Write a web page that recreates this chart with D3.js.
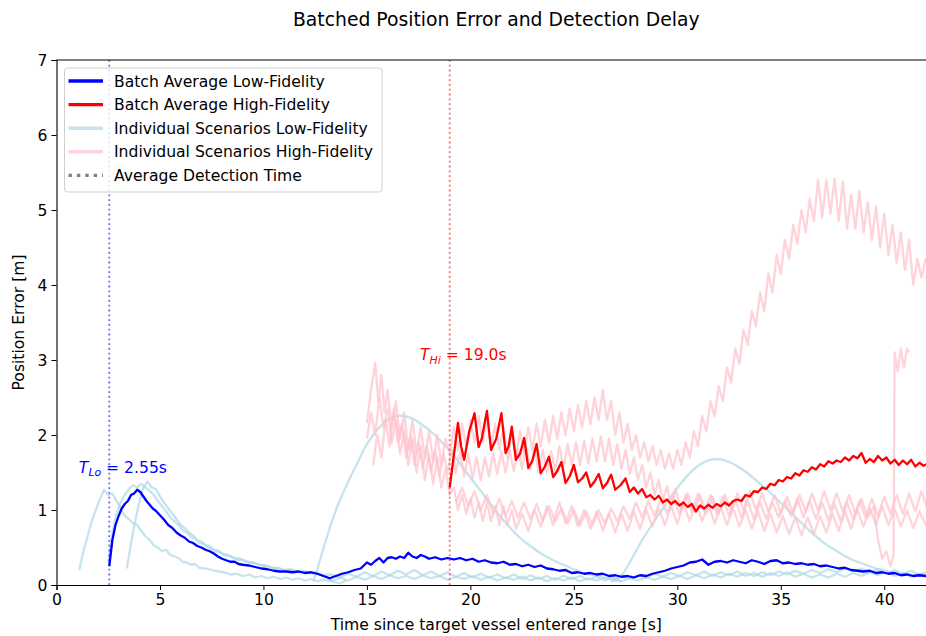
<!DOCTYPE html>
<html>
<head>
<meta charset="utf-8">
<script src="https://cdn.jsdelivr.net/npm/d3@7"></script>
<style>
  body { margin: 0; background: #fff; }
  text { font-family: "DejaVu Sans", sans-serif; }
</style>
</head>
<body>
<svg id="chart" width="926" height="636"></svg>
<script>
// values, [time s, error m]
const lowAvg = [[2.55,0.25],[2.7,0.6],[2.85,0.8],[3.0,0.92],[3.15,1.02],[3.3,1.08],[3.45,1.12],[3.6,1.2],[3.75,1.22],[3.9,1.27],[4.05,1.24],[4.2,1.18],[4.35,1.12],[4.5,1.07],[4.65,1.02],[4.8,0.99],[5.0,0.93],[5.2,0.87],[5.4,0.80],[5.6,0.76],[5.8,0.70],[6.0,0.66],[6.2,0.63],[6.4,0.58],[6.6,0.56],[6.8,0.52],[7.0,0.50],[7.2,0.47],[7.4,0.45],[7.6,0.42],[7.8,0.38],[8.0,0.35],[8.2,0.33],[8.4,0.31],[8.6,0.31],[8.8,0.28],[9.0,0.27],[9.3,0.26],[9.6,0.24],[9.9,0.22],[10.2,0.21],[10.5,0.19],[10.8,0.18],[11.1,0.18],[11.4,0.17],[11.7,0.18],[12.0,0.16],[12.3,0.17],[12.6,0.15],[12.9,0.12],[13.2,0.09],[13.5,0.12],[13.8,0.15],[14.1,0.17],[14.4,0.20],[14.7,0.22],[15.0,0.30],[15.2,0.27],[15.4,0.32],[15.6,0.36],[15.8,0.30],[16.0,0.36],[16.2,0.37],[16.4,0.35],[16.6,0.38],[16.8,0.36],[17.0,0.43],[17.2,0.38],[17.4,0.36],[17.6,0.40],[17.8,0.38],[18.0,0.35],[18.3,0.37],[18.6,0.34],[18.9,0.36],[19.2,0.34],[19.5,0.36],[19.8,0.33],[20.1,0.35],[20.4,0.31],[20.7,0.33],[21.0,0.30],[21.3,0.29],[21.6,0.31],[21.9,0.27],[22.2,0.28],[22.5,0.25],[22.8,0.27],[23.1,0.24],[23.4,0.26],[23.7,0.22],[24.0,0.21],[24.3,0.19],[24.6,0.20],[24.9,0.16],[25.2,0.17],[25.5,0.15],[25.8,0.16],[26.1,0.14],[26.4,0.15],[26.7,0.12],[27.0,0.13],[27.3,0.11],[27.6,0.12],[27.9,0.10],[28.2,0.13],[28.5,0.12],[28.8,0.15],[29.1,0.17],[29.4,0.19],[29.7,0.22],[30.0,0.24],[30.3,0.26],[30.6,0.30],[30.9,0.31],[31.2,0.34],[31.5,0.27],[31.8,0.31],[32.1,0.32],[32.4,0.30],[32.7,0.33],[33.0,0.31],[33.3,0.29],[33.6,0.33],[33.9,0.31],[34.2,0.28],[34.5,0.32],[34.8,0.33],[35.1,0.29],[35.4,0.30],[35.7,0.28],[36.0,0.29],[36.3,0.27],[36.6,0.28],[36.9,0.25],[37.2,0.26],[37.5,0.24],[37.8,0.22],[38.1,0.23],[38.4,0.20],[38.7,0.19],[39.0,0.18],[39.3,0.19],[39.6,0.16],[39.9,0.17],[40.2,0.15],[40.5,0.16],[40.8,0.13],[41.1,0.14],[41.4,0.12],[41.7,0.13],[42.0,0.12],[42.3,0.11]];

const hiAvg = [[19.0,1.30],[19.15,1.62],[19.4,2.16],[19.55,1.85],[19.7,1.67],[19.95,2.05],[20.2,2.29],[20.4,1.84],[20.55,1.95],[20.8,2.32],[21.0,1.80],[21.25,1.95],[21.5,2.29],[21.7,1.76],[21.85,1.85],[22.0,2.11],[22.2,1.67],[22.4,1.75],[22.6,1.96],[22.8,1.56],[23.0,1.66],[23.2,1.88],[23.4,1.49],[23.6,1.58],[23.8,1.71],[24.0,1.44],[24.2,1.52],[24.4,1.64],[24.6,1.36],[24.8,1.45],[25.0,1.60],[25.2,1.37],[25.4,1.42],[25.6,1.50],[25.8,1.31],[26.0,1.38],[26.2,1.48],[26.4,1.29],[26.6,1.36],[26.8,1.47],[27.0,1.27],[27.25,1.33],[27.5,1.42],[27.7,1.24],[27.9,1.30],[28.1,1.22],[28.3,1.28],[28.5,1.17],[28.7,1.20],[28.9,1.14],[29.1,1.19],[29.3,1.10],[29.5,1.14],[29.7,1.08],[29.9,1.12],[30.1,1.06],[30.3,1.10],[30.5,1.04],[30.7,1.08],[30.9,0.98],[31.1,1.06],[31.3,1.02],[31.5,1.07],[31.7,1.03],[31.9,1.08],[32.1,1.05],[32.3,1.10],[32.5,1.06],[32.7,1.12],[32.9,1.14],[33.1,1.12],[33.3,1.20],[33.5,1.18],[33.7,1.25],[33.9,1.24],[34.1,1.30],[34.3,1.28],[34.5,1.35],[34.7,1.33],[34.9,1.40],[35.1,1.38],[35.3,1.44],[35.5,1.42],[35.7,1.49],[35.9,1.46],[36.1,1.53],[36.3,1.51],[36.5,1.57],[36.7,1.54],[36.9,1.61],[37.1,1.58],[37.3,1.65],[37.5,1.62],[37.7,1.66],[37.9,1.64],[38.1,1.70],[38.3,1.66],[38.5,1.72],[38.7,1.69],[38.9,1.76],[39.1,1.63],[39.3,1.68],[39.5,1.64],[39.7,1.72],[39.9,1.66],[40.1,1.70],[40.3,1.62],[40.5,1.67],[40.7,1.60],[40.9,1.66],[41.1,1.61],[41.3,1.67],[41.5,1.58],[41.7,1.63],[41.9,1.59],[42.1,1.62],[42.3,1.60]];

const lowRun1 = [[1.1,0.2],[1.3,0.45],[1.5,0.65],[1.7,0.85],[1.9,1.0],[2.1,1.15],[2.3,1.27],[2.5,1.2],[2.7,1.22],[2.9,1.12],[3.1,1.02],[3.3,0.92],[3.5,0.88],[3.7,0.82],[3.9,0.8],[4.1,0.72],[4.3,0.65],[4.5,0.6],[4.7,0.53],[4.9,0.5],[5.1,0.45],[5.3,0.47],[5.5,0.4],[5.7,0.38],[5.9,0.36],[6.1,0.31],[6.3,0.3],[6.5,0.27],[6.7,0.28],[6.9,0.23],[7.2,0.22],[7.5,0.2],[7.8,0.18],[8.1,0.17],[8.4,0.14],[8.7,0.15],[9.0,0.12],[9.3,0.14],[9.6,0.1],[9.9,0.12],[10.2,0.09],[10.5,0.11],[10.8,0.08],[11.1,0.1],[11.4,0.07],[11.7,0.09],[12.0,0.06],[12.3,0.08],[12.6,0.05],[12.9,0.07],[13.3,0.05],[13.7,0.1],[14.1,0.06],[14.5,0.11],[14.9,0.07],[15.3,0.12],[15.7,0.08],[16.1,0.13],[16.5,0.09],[16.9,0.12],[17.3,0.08],[17.7,0.13],[18.1,0.09],[18.5,0.12],[18.9,0.07],[19.3,0.11],[19.7,0.08],[20.1,0.12],[20.5,0.07],[20.9,0.11],[21.3,0.06],[21.7,0.1],[22.1,0.07],[22.5,0.11],[22.9,0.06],[23.3,0.1],[23.7,0.05],[24.1,0.09],[24.5,0.06],[24.9,0.1],[25.3,0.05],[25.7,0.09],[26.1,0.06],[26.5,0.1],[26.9,0.07],[27.3,0.11],[27.7,0.08],[28.1,0.13],[28.5,0.1],[28.9,0.15],[29.3,0.11],[29.7,0.16],[30.1,0.12],[30.5,0.17],[30.9,0.13],[31.3,0.18],[31.7,0.12],[32.1,0.17],[32.5,0.13],[32.9,0.18],[33.3,0.12],[33.7,0.16],[34.1,0.11],[34.5,0.16],[34.9,0.12],[35.3,0.17],[35.7,0.11],[36.1,0.15],[36.5,0.1],[36.9,0.14],[37.3,0.1],[37.7,0.15],[38.1,0.11],[38.5,0.16],[38.9,0.12],[39.3,0.17],[39.7,0.13],[40.1,0.18],[40.5,0.12],[40.9,0.16],[41.3,0.11],[41.7,0.15],[42.1,0.12],[42.5,0.14]];

const lowRun2 = [[2.5,0.3],[2.7,0.7],[2.9,0.95],[3.1,1.1],[3.3,1.2],[3.5,1.28],[3.7,1.33],[3.9,1.3],[4.1,1.35],[4.3,1.3],[4.5,1.26],[4.7,1.2],[4.9,1.12],[5.1,1.05],[5.3,0.98],[5.5,0.9],[5.7,0.85],[5.9,0.8],[6.1,0.73],[6.3,0.7],[6.5,0.64],[6.7,0.62],[6.9,0.56],[7.1,0.55],[7.3,0.5],[7.5,0.48],[7.7,0.45],[7.9,0.44],[8.1,0.4],[8.4,0.38],[8.7,0.34],[9.0,0.33],[9.3,0.3],[9.6,0.29],[9.9,0.26],[10.2,0.25],[10.5,0.22],[10.8,0.22],[11.1,0.19],[11.4,0.2],[11.7,0.17],[12.0,0.18],[12.3,0.15],[12.6,0.16],[12.9,0.13],[13.3,0.14],[13.7,0.1],[14.1,0.15],[14.5,0.11],[14.9,0.17],[15.3,0.12],[15.7,0.18],[16.1,0.13],[16.5,0.19],[16.9,0.14],[17.3,0.2],[17.7,0.13],[18.1,0.18],[18.5,0.12],[18.9,0.17],[19.3,0.11],[19.7,0.16],[20.1,0.1],[20.5,0.15],[20.9,0.1],[21.3,0.14],[21.7,0.09],[22.1,0.14],[22.5,0.08],[22.9,0.13],[23.3,0.08],[23.7,0.12],[24.1,0.07],[24.5,0.12],[24.9,0.08],[25.3,0.12],[25.7,0.07],[26.1,0.11],[26.5,0.06],[26.9,0.1],[27.3,0.05],[27.7,0.09],[28.1,0.06],[28.5,0.1],[28.9,0.07],[29.3,0.11],[29.7,0.08],[30.1,0.12],[30.5,0.08],[30.9,0.13],[31.3,0.09],[31.7,0.14],[32.1,0.1],[32.5,0.15],[32.9,0.11],[33.3,0.16],[33.7,0.12],[34.1,0.17],[34.5,0.13],[34.9,0.18],[35.3,0.14],[35.7,0.19],[36.1,0.15],[36.5,0.2],[36.9,0.16],[37.3,0.21],[37.7,0.17],[38.1,0.22],[38.5,0.18],[38.9,0.22],[39.3,0.17],[39.7,0.21],[40.1,0.16],[40.5,0.2],[40.9,0.15],[41.3,0.19],[41.7,0.14],[42.1,0.18],[42.5,0.15]];

const lowRun3 = [[3.4,0.22],[3.6,0.55],[3.8,0.85],[4.0,1.1],[4.2,1.3],[4.4,1.38],[4.6,1.3],[4.8,1.28],[5.0,1.18],[5.2,1.1],[5.4,1.02],[5.6,0.95],[5.8,0.88],[6.0,0.8],[6.2,0.76],[6.4,0.7],[6.6,0.66],[6.8,0.6],[7.0,0.58],[7.2,0.53],[7.4,0.52],[7.6,0.47],[7.8,0.46],[8.0,0.42],[8.3,0.4],[8.6,0.36],[8.9,0.35],[9.2,0.31],[9.5,0.3],[9.8,0.27],[10.1,0.26],[10.4,0.23],[10.7,0.23],[11.0,0.2],[11.3,0.21],[11.6,0.18],[11.9,0.19],[12.2,0.16],[12.5,0.17],[12.8,0.13],[13.1,0.1],[13.4,0.04],[13.7,0.02],[14.0,0.06]];

const lowRun4 = [[12.4,0.05],[12.6,0.2],[12.8,0.4],[13.0,0.58],[13.2,0.76],[13.4,0.92],[13.6,1.07],[13.8,1.2],[14.0,1.32],[14.2,1.44],[14.4,1.55],[14.6,1.66],[14.8,1.78],[15.0,1.88],[15.2,1.96],[15.4,2.04],[15.6,2.1],[15.8,2.16],[16.0,2.2],[16.2,2.23],[16.4,2.25],[16.6,2.26],[16.8,2.25],[17.0,2.24],[17.2,2.22],[17.4,2.19],[17.6,2.15],[17.8,2.11],[18.0,2.07],[18.2,2.02],[18.4,1.97],[18.6,1.91],[18.8,1.85],[19.0,1.79],[19.2,1.73],[19.4,1.66],[19.6,1.58],[19.8,1.51],[20.0,1.43],[20.2,1.36],[20.4,1.29],[20.6,1.22],[20.8,1.14],[21.0,1.07],[21.2,1.0],[21.4,0.93],[21.6,0.86],[21.8,0.8],[22.0,0.74],[22.2,0.68],[22.4,0.63],[22.6,0.58],[22.8,0.54],[23.0,0.5],[23.2,0.46],[23.4,0.42],[23.6,0.39],[23.8,0.36],[24.0,0.33],[24.3,0.29],[24.6,0.26],[24.9,0.22],[25.2,0.19],[25.5,0.16],[25.8,0.14],[26.1,0.12],[26.4,0.1],[26.7,0.08],[27.0,0.06],[27.3,0.05]];

const lowRun5 = [[26.8,0.04],[27.1,0.08],[27.4,0.16],[27.7,0.3],[28.0,0.45],[28.3,0.6],[28.6,0.73],[28.9,0.86],[29.2,0.98],[29.5,1.1],[29.8,1.22],[30.1,1.33],[30.4,1.43],[30.7,1.52],[31.0,1.59],[31.3,1.64],[31.6,1.67],[31.9,1.68],[32.2,1.67],[32.5,1.64],[32.8,1.6],[33.1,1.55],[33.4,1.49],[33.7,1.42],[34.0,1.35],[34.3,1.28],[34.6,1.2],[34.9,1.12],[35.2,1.04],[35.5,0.96],[35.8,0.88],[36.1,0.8],[36.4,0.72],[36.7,0.65],[37.0,0.58],[37.3,0.52],[37.6,0.47],[37.9,0.42],[38.2,0.37],[38.5,0.33],[38.8,0.3],[39.1,0.27],[39.4,0.24],[39.7,0.21],[40.0,0.2],[40.3,0.17],[40.6,0.16],[40.9,0.14],[41.2,0.15],[41.5,0.13],[41.8,0.14],[42.1,0.13],[42.5,0.12]];

const hiRun1 = [[15.0,2.16],[15.2,2.6],[15.4,2.96],[15.55,2.45],[15.7,2.8],[15.85,2.3],[16.0,2.6],[16.2,2.1],[16.4,2.45],[16.6,1.95],[16.8,2.3],[17.0,1.8],[17.2,2.2],[17.4,1.75],[17.6,2.1],[17.8,1.7],[18.0,2.05],[18.2,1.65],[18.4,2.0],[18.6,1.6],[18.8,1.95],[19.0,1.75],[19.2,2.1],[19.4,1.8],[19.6,2.15],[19.8,1.85],[20.0,2.2],[20.2,1.9],[20.4,2.25],[20.6,1.9],[20.8,2.2],[21.0,1.85],[21.2,2.15],[21.4,1.8],[21.6,2.1],[21.8,1.7],[22.0,2.0],[22.2,1.7],[22.4,2.05],[22.6,1.75],[22.8,2.1],[23.0,1.8],[23.2,2.15],[23.4,1.85],[23.6,2.2],[23.8,1.9],[24.0,2.25],[24.2,1.95],[24.4,2.3],[24.6,2.0],[24.8,2.35],[25.0,2.05],[25.2,2.4],[25.4,2.1],[25.6,2.45],[25.8,2.15],[26.0,2.5],[26.2,2.2],[26.4,2.6],[26.6,2.2],[26.8,2.45],[27.0,2.0],[27.2,2.3],[27.4,1.9],[27.6,2.15],[27.8,1.8],[28.0,2.0],[28.2,1.7],[28.4,1.9],[28.6,1.65],[28.8,1.85],[29.0,1.6],[29.2,1.8],[29.4,1.55],[29.6,1.75],[29.8,1.55],[30.0,1.8],[30.2,1.6],[30.4,1.9],[30.6,1.7],[30.8,2.05],[31.0,1.85],[31.2,2.25],[31.4,2.05],[31.6,2.45],[31.8,2.25],[32.0,2.65],[32.2,2.45],[32.4,2.9],[32.6,2.7],[32.8,3.15],[33.0,2.95],[33.2,3.4],[33.4,3.2],[33.6,3.65],[33.8,3.45],[34.0,3.9],[34.2,3.65],[34.4,4.15],[34.6,3.9],[34.8,4.4],[35.0,4.15],[35.2,4.6],[35.4,4.35],[35.6,4.8],[35.8,4.55],[36.0,5.0],[36.2,4.7],[36.4,5.15],[36.6,4.85],[36.8,5.4],[37.0,4.9],[37.2,5.4],[37.4,4.95],[37.6,5.42],[37.8,4.85],[38.0,5.38],[38.2,4.75],[38.4,5.2],[38.6,4.75],[38.8,5.25],[39.0,4.7],[39.2,5.1],[39.4,4.6],[39.6,5.05],[39.8,4.5],[40.0,4.95],[40.2,4.4],[40.4,4.8],[40.6,4.3],[40.8,4.7],[41.0,4.2],[41.2,4.6],[41.4,4.0],[41.6,4.35],[41.8,4.1],[42.0,4.35],[42.3,4.2]];

const hiRun2 = [[15.0,1.95],[15.2,2.3],[15.4,2.0],[15.6,2.5],[15.8,2.1],[16.0,2.35],[16.2,1.9],[16.4,2.2],[16.6,1.75],[16.8,2.05],[17.0,1.6],[17.2,1.95],[17.4,1.5],[17.6,1.85],[17.8,1.4],[18.0,1.75],[18.2,1.35],[18.4,1.7],[18.6,1.3],[18.8,1.55],[19.0,1.2],[19.2,1.3],[19.4,1.0],[19.6,1.2],[19.8,0.95],[20.0,1.15],[20.2,0.9],[20.4,1.1],[20.6,0.85],[20.8,1.1],[21.0,0.85],[21.2,1.05],[21.4,0.8],[21.6,1.05],[21.8,0.8],[22.0,1.0],[22.2,0.75],[22.5,0.95],[22.8,0.72],[23.1,1.0],[23.4,0.78],[23.7,1.05],[24.0,0.8],[24.3,1.1],[24.6,0.82],[24.9,1.05],[25.2,0.78],[25.5,1.0],[25.8,0.75],[26.1,0.98],[26.4,0.72],[26.7,0.95],[27.0,0.7],[27.3,0.95],[27.6,0.72],[27.9,0.98],[28.2,0.75],[28.5,1.0],[28.8,0.78],[29.1,1.02],[29.4,0.8],[29.7,1.05],[30.0,0.82],[30.3,1.08],[30.6,0.85],[30.9,1.1],[31.2,0.85],[31.5,1.08],[31.8,0.82],[32.1,1.05],[32.4,0.8],[32.7,1.02],[33.0,0.78],[33.3,1.0],[33.6,0.75],[33.9,0.98],[34.2,0.72],[34.5,0.95],[34.8,0.7],[35.1,0.92],[35.4,0.68],[35.7,0.9],[36.0,0.66],[36.3,0.9],[36.6,0.68],[36.9,0.92],[37.2,0.7],[37.5,0.95],[37.8,0.72],[38.1,0.98],[38.4,0.75],[38.7,1.0],[39.0,0.78],[39.3,1.02],[39.6,0.8],[39.9,1.05],[40.2,0.8],[40.5,1.02],[40.8,0.78],[41.1,1.0],[41.4,0.76],[41.7,0.98],[42.0,0.8],[42.3,0.95]];

const hiRun3 = [[19.3,1.1],[19.6,1.3],[19.9,1.05],[20.2,1.25],[20.5,1.0],[20.8,1.2],[21.1,0.95],[21.4,1.15],[21.7,0.92],[22.0,1.12],[22.3,0.9],[22.6,1.1],[22.9,0.88],[23.2,1.08],[23.5,0.85],[23.8,1.05],[24.1,0.85],[24.4,1.02],[24.7,0.82],[25.0,1.0],[25.3,0.8],[25.6,0.98],[25.9,0.8],[26.2,1.0],[26.5,0.82],[26.8,1.02],[27.1,0.85],[27.4,1.05],[27.7,0.88],[28.0,1.1],[28.3,0.9],[28.6,1.12],[28.9,0.92],[29.2,1.15],[29.5,0.95],[29.8,1.18],[30.1,0.95],[30.4,1.2],[30.7,0.98],[31.0,1.22],[31.3,0.98],[31.6,1.2],[31.9,0.95],[32.2,1.18],[32.5,0.92],[32.8,1.15],[33.1,0.9],[33.4,1.12],[33.7,0.88],[34.0,1.1],[34.3,0.88],[34.6,1.1],[34.9,0.9],[35.2,1.12],[35.5,0.92],[35.8,1.15],[36.1,0.9],[36.4,1.12],[36.7,0.88],[37.0,1.1],[37.3,0.86],[37.6,1.08],[37.9,0.85],[38.2,1.1],[38.5,0.88],[38.8,1.12],[39.1,0.9],[39.4,1.15],[39.7,0.92],[40.0,1.18],[40.3,0.95],[40.6,1.2],[40.9,0.95],[41.2,1.22],[41.5,0.98],[41.8,1.25],[42.1,1.0],[42.4,1.2]];

const hiRun4 = [[15.3,1.6],[15.5,2.0],[15.7,1.7],[15.9,2.2],[16.1,1.85],[16.3,2.35],[16.5,1.9],[16.7,2.15],[16.9,1.7],[17.1,2.0],[17.3,1.6],[17.5,1.9],[17.7,1.55],[17.9,1.85],[18.1,1.5],[18.3,1.8],[18.5,1.45],[18.7,1.75],[18.9,1.5],[19.1,1.8],[19.3,1.5],[19.5,1.78],[19.7,1.45],[19.9,1.75],[20.1,1.42],[20.3,1.7],[20.5,1.4],[20.7,1.7],[20.9,1.45],[21.1,1.75],[21.3,1.48],[21.5,1.78],[21.7,1.5],[21.9,1.8],[22.1,1.52],[22.3,1.82],[22.5,1.55],[22.7,1.85],[22.9,1.55],[23.1,1.82],[23.3,1.5],[23.5,1.8],[23.7,1.5],[23.9,1.78],[24.1,1.52],[24.3,1.85],[24.5,1.55],[24.7,1.88],[24.9,1.6],[25.1,1.9],[25.3,1.6],[25.5,1.92],[25.7,1.62],[25.9,1.95],[26.1,1.65],[26.3,1.98],[26.5,1.65],[26.7,1.95],[26.9,1.6],[27.1,1.88],[27.3,1.55],[27.5,1.8],[27.7,1.48],[27.9,1.7],[28.1,1.4],[28.3,1.6],[28.5,1.3],[28.7,1.5],[28.9,1.2],[29.1,1.4],[29.3,1.12],[29.5,1.32],[29.7,1.05],[29.9,1.28],[30.2,1.0],[30.5,1.22],[30.8,0.98],[31.1,1.2],[31.4,0.95],[31.7,1.18],[32.0,0.95],[32.3,1.2],[32.6,0.98],[32.9,1.22],[33.2,1.0],[33.5,1.25],[33.8,1.0],[34.1,1.22],[34.4,0.98],[34.7,1.2],[35.0,0.95],[35.3,1.18],[35.6,0.95],[35.9,1.2],[36.2,0.98],[36.5,1.22],[36.8,1.0],[37.1,1.25],[37.4,1.0],[37.7,1.22],[38.0,0.98],[38.3,1.2],[38.6,0.95],[38.9,1.15],[39.2,0.9],[39.5,1.05],[39.7,0.6],[39.9,0.35],[40.1,0.45],[40.3,0.25],[40.45,0.4],[40.5,3.1],[40.65,2.85],[40.8,3.15],[40.95,2.9],[41.1,3.15],[41.2,3.1]];

const lowRuns = [lowRun1, lowRun2, lowRun3, lowRun4, lowRun5];
const hiRuns = [hiRun1, hiRun2, hiRun3, hiRun4];

const detectLo = 2.55, detectHi = 19.0;
const xTicks = [0, 5, 10, 15, 20, 25, 30, 35, 40];
const yTicks = [0, 1, 2, 3, 4, 5, 6, 7];
const legendItems = [
  {label: 'Batch Average Low-Fidelity', color: 'blue', width: 3.4},
  {label: 'Batch Average High-Fidelity', color: 'red', width: 3.4},
  {label: 'Individual Scenarios Low-Fidelity', color: 'lightblue', width: 3.4, opacity: 0.7},
  {label: 'Individual Scenarios High-Fidelity', color: 'pink', width: 3.4, opacity: 0.7},
  {label: 'Average Detection Time', color: 'gray', width: 3.4, dash: '3.4,5'}
];

const svg = d3.select('#chart');
const plotL = 56.5, plotT = 60, plotB = 585, plotR = 936;
const fs = 15.6;

const x = d3.scaleLinear().domain([0, 42.5]).range([plotL, plotR]);
const y = d3.scaleLinear().domain([0, 7]).range([plotB, plotT]);

svg.append('defs').append('clipPath').attr('id', 'plot')
  .append('rect').attr('x', plotL).attr('y', plotT)
  .attr('width', plotR - plotL).attr('height', plotB - plotT);

const line = d3.line().x(d => x(d[0])).y(d => y(d[1]));
const plot = svg.append('g').attr('clip-path', 'url(#plot)');

plot.selectAll('.low-run').data(lowRuns).enter()
  .append('path').attr('class', 'low-run')
  .attr('d', line).attr('fill', 'none')
  .attr('stroke', 'lightblue').attr('stroke-opacity', 0.7)
  .attr('stroke-width', 2.3).attr('stroke-linejoin', 'round');

plot.selectAll('.hi-run').data(hiRuns).enter()
  .append('path').attr('class', 'hi-run')
  .attr('d', line).attr('fill', 'none')
  .attr('stroke', 'pink').attr('stroke-opacity', 0.7)
  .attr('stroke-width', 2.3).attr('stroke-linejoin', 'round');

plot.append('path').datum(lowAvg).attr('d', line)
  .attr('fill', 'none').attr('stroke', 'blue').attr('stroke-width', 2.3)
  .attr('stroke-linejoin', 'round');
plot.append('path').datum(hiAvg).attr('d', line)
  .attr('fill', 'none').attr('stroke', 'red').attr('stroke-width', 2.3)
  .attr('stroke-linejoin', 'round');

// detection time markers
[[detectLo, 'blue'], [detectHi, 'red']].forEach(([t, c]) => {
  plot.append('line')
    .attr('x1', x(t)).attr('x2', x(t)).attr('y1', plotT).attr('y2', plotB)
    .attr('stroke', c).attr('stroke-opacity', 0.6)
    .attr('stroke-width', 1.8).attr('stroke-dasharray', '1.8,3');
});

function annotate(t, v, sub, txt, color) {
  const label = svg.append('text')
    .attr('x', x(t + 0.66)).attr('y', y(v))
    .attr('fill', color).attr('font-size', fs).attr('text-anchor', 'middle');
  label.append('tspan').attr('font-style', 'italic').text('T');
  label.append('tspan').attr('font-style', 'italic').attr('font-size', fs * 0.7)
    .attr('dy', 3.5).text(sub);
  label.append('tspan').attr('dy', -3.5).text(' = ' + txt);
}
annotate(detectLo, 1.5, 'Lo', detectLo.toFixed(2) + 's', 'blue');
annotate(detectHi, 3.0, 'Hi', detectHi.toFixed(1) + 's', 'red');

// axes
const xAxis = svg.append('g').attr('transform', `translate(0,${plotB})`)
  .call(d3.axisBottom(x).tickValues(xTicks).tickFormat(d3.format('d'))
    .tickSize(5).tickPadding(4));
const yAxis = svg.append('g').attr('transform', `translate(${plotL},0)`)
  .call(d3.axisLeft(y).tickValues(yTicks).tickFormat(d3.format('d'))
    .tickSize(5).tickPadding(4));
[xAxis, yAxis].forEach(g => {
  g.selectAll('text').attr('font-size', fs).attr('fill', '#000')
    .attr('font-family', '"DejaVu Sans", sans-serif');
  g.selectAll('line').attr('stroke', '#000');
  g.select('.domain').attr('stroke', '#000').attr('stroke-width', 1.1);
});
svg.append('line').attr('x1', plotL).attr('x2', plotR)
  .attr('y1', plotT).attr('y2', plotT).attr('stroke', '#000').attr('stroke-width', 1.1);

svg.append('text').attr('x', (plotL + plotR) / 2).attr('y', 630)
  .attr('text-anchor', 'middle').attr('font-size', fs)
  .text('Time since target vessel entered range [s]');
svg.append('text')
  .attr('transform', `translate(24,${(plotT + plotB) / 2}) rotate(-90)`)
  .attr('text-anchor', 'middle').attr('font-size', fs)
  .text('Position Error [m]');
svg.append('text').attr('x', (plotL + plotR) / 2).attr('y', 26)
  .attr('text-anchor', 'middle').attr('font-size', 18.8)
  .text('Batched Position Error and Detection Delay');

// legend
const legend = svg.append('g');
legend.append('rect').attr('x', 64.5).attr('y', 68).attr('width', 317.5).attr('height', 124)
  .attr('rx', 3).attr('fill', 'white').attr('fill-opacity', 0.8)
  .attr('stroke', '#d0d0d0');
const rows = legend.selectAll('.row').data(legendItems).enter()
  .append('g').attr('class', 'row')
  .attr('transform', (d, i) => `translate(0,${81 + i * 23.6})`);
rows.append('line').attr('x1', 68.5).attr('x2', 103).attr('y1', 0).attr('y2', 0)
  .attr('stroke', d => d.color).attr('stroke-width', d => d.width)
  .attr('stroke-opacity', d => d.opacity || 1)
  .attr('stroke-dasharray', d => d.dash || null);
rows.append('text').attr('x', 114).attr('y', 5.5).attr('font-size', fs)
  .text(d => d.label);
</script>
</body>
</html>
